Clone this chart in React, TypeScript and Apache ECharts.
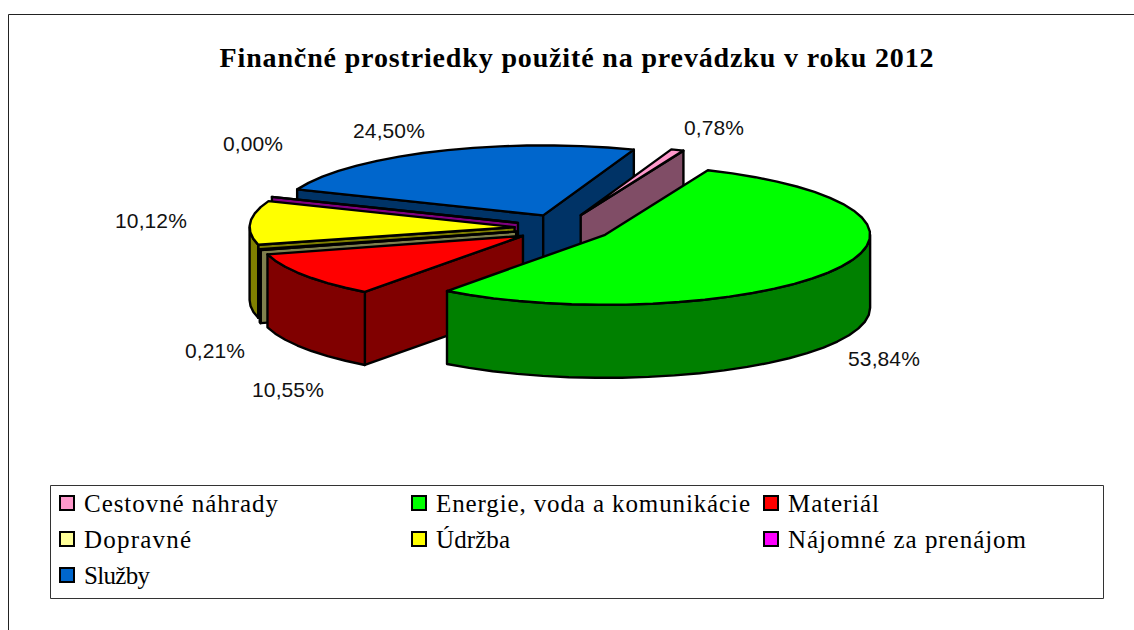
import React, { useEffect, useRef } from "react";
import * as echarts from "echarts";

const titleText = "Finančné prostriedky použité na prevádzku v roku 2012";
const categories = ["Cestovné náhrady", "Energie, voda a komunikácie", "Materiál", "Dopravné", "Údržba", "Nájomné za prenájom", "Služby"];
const shares = [0.78, 53.84, 10.55, 0.21, 10.12, 0.0, 24.5];
const topColors = ["#FF99CC", "#00FF00", "#FF0000", "#FFFF99", "#FFFF00", "#FF00FF", "#0066CC"];
const wallColors = ["#804D66", "#008000", "#800000", "#80804D", "#808000", "#800080", "#003366"];
// back-to-front painting order of the slices
const paintOrder = [6, 0, 5, 4, 3, 2, 1];
const labelAnchors = [[714, 127], [884, 358], [288, 389], [215, 350], [151, 220], [253, 143], [389, 130]];
// widths the reference sets each legend entry to
const legendTextWidths = [194, 314, 91, 107, 74, 238, 66];

const PIE = { cx: 563, cy: 228, rx: 265, ry: 70, ex: 48.5, ey: 13.8, depth: 73, start: 20 };
const LEGEND = { x: 50, y: 485, w: 1054, h: 114, cols: [59, 411, 763], rows: [503, 539, 575], swatch: 15, textGap: 25 };

const rad = (d: number) => (d * Math.PI) / 180;

function sliceAngles() {
  let acc = PIE.start;
  return shares.map((v) => {
    const a0 = acc;
    acc += (v / 100) * 360;
    return [a0, acc];
  });
}

function renderSlice(params: any) {
  const idx = paintOrder[params.dataIndex];
  const [a0, a1] = sliceAngles()[idx];
  const mid = (a0 + a1) / 2;
  const cx = PIE.cx + PIE.ex * Math.sin(rad(mid));
  const cy = PIE.cy - PIE.ey * Math.cos(rad(mid));
  const pt = (a: number, dz = 0) => [cx + PIE.rx * Math.sin(rad(a)), cy - PIE.ry * Math.cos(rad(a)) + dz];
  const arc = (from: number, to: number, dz = 0) => {
    const out: number[][] = [];
    const n = Math.max(1, Math.ceil((to - from) / 6));
    for (let i = 0; i <= n; i++) out.push(pt(from + ((to - from) * i) / n, dz));
    return out;
  };
  const base = { stroke: "#000", lineWidth: 2.4, lineJoin: "round" };
  const wall = { ...base, fill: wallColors[idx] };
  const children: any[] = [];
  const centre = [cx, cy];
  const below = [cx, cy + PIE.depth];
  const face = (a: number) => ({
    type: "polygon",
    silent: true,
    shape: { points: [centre, pt(a), pt(a, PIE.depth), below] },
    style: wall,
  });
  if (Math.sin(rad(a0)) < 0) children.push(face(a0));
  if (Math.sin(rad(a1)) > 0) children.push(face(a1));
  const r0 = Math.max(a0, 90);
  const r1 = Math.min(a1, 270);
  if (r1 > r0) {
    children.push({
      type: "polygon",
      silent: true,
      shape: { points: [...arc(r0, r1), ...arc(r0, r1, PIE.depth).reverse()] },
      style: wall,
    });
  }
  children.push({
    type: "polygon",
    silent: true,
    shape: { points: [centre, ...arc(a0, a1)] },
    style: { ...base, fill: topColors[idx] },
  });
  return { type: "group", children };
}

const pct = (v: number) => v.toFixed(2).replace(".", ",") + "%";

export default function App() {
  const ref = useRef<HTMLDivElement>(null);
  useEffect(() => {
    const chart = echarts.init(ref.current!, null, { renderer: "svg", width: 1134, height: 630 });
    const graphic: any[] = [
      { type: "line", silent: true, shape: { x1: 8.5, y1: 14.5, x2: 1134, y2: 14.5 }, style: { stroke: "#222", lineWidth: 1 } },
      { type: "line", silent: true, shape: { x1: 8.5, y1: 14.5, x2: 8.5, y2: 630 }, style: { stroke: "#222", lineWidth: 1 } },
      {
        type: "rect",
        silent: true,
        shape: { x: LEGEND.x + 0.5, y: LEGEND.y + 0.5, width: LEGEND.w - 1, height: LEGEND.h - 1 },
        style: { fill: "#fff", stroke: "#333", lineWidth: 1 },
      },
      {
        type: "text",
        silent: true,
        x: 577,
        y: 57,
        style: {
          text: titleText,
          fontFamily: "Liberation Serif",
          fontWeight: "bold",
          fontSize: 28,
          fill: "#000",
          textAlign: "center",
          textVerticalAlign: "middle",
        },
      },
    ];
    categories.forEach((name, i) => {
      const x = LEGEND.cols[i % 3];
      const y = LEGEND.rows[Math.floor(i / 3)];
      graphic.push({
        type: "rect",
        silent: true,
        shape: { x: x + 1, y: y - LEGEND.swatch / 2 + 0.5, width: LEGEND.swatch - 1, height: LEGEND.swatch - 1 },
        style: { fill: topColors[i], stroke: "#000", lineWidth: 2 },
      });
      graphic.push({
        type: "text",
        silent: true,
        x: x + LEGEND.textGap,
        y,
        style: {
          text: name,
          fontFamily: "Liberation Serif",
          fontSize: 25,
          fill: "#000",
          textAlign: "left",
          textVerticalAlign: "middle",
        },
      });
    });
    shares.forEach((v, i) => {
      graphic.push({
        type: "text",
        silent: true,
        x: labelAnchors[i][0],
        y: labelAnchors[i][1],
        style: {
          text: pct(v),
          fontFamily: "Liberation Sans",
          fontSize: 21,
          fill: "#111",
          textAlign: "center",
          textVerticalAlign: "middle",
        },
      });
    });
    chart.setOption({
      animation: false,
      backgroundColor: "#fff",
      graphic,
      series: [
        {
          type: "custom",
          coordinateSystem: "none",
          silent: true,
          renderItem: renderSlice,
          data: paintOrder.map((i) => [shares[i]]),
        },
      ],
    });
    // the reference text is set wide, with open letter spacing
    ref.current!.querySelectorAll("text").forEach((el: any) => {
      const t = el.textContent;
      const li = categories.indexOf(t);
      if (li >= 0) el.setAttribute("textLength", String(legendTextWidths[li]));
      else el.style.letterSpacing = t === titleText ? "0.85px" : "0.1px";
    });
    return () => chart.dispose();
  }, []);
  return <div ref={ref} style={{ position: "absolute", left: 0, top: 0, width: 1134, height: 630 }} />;
}
